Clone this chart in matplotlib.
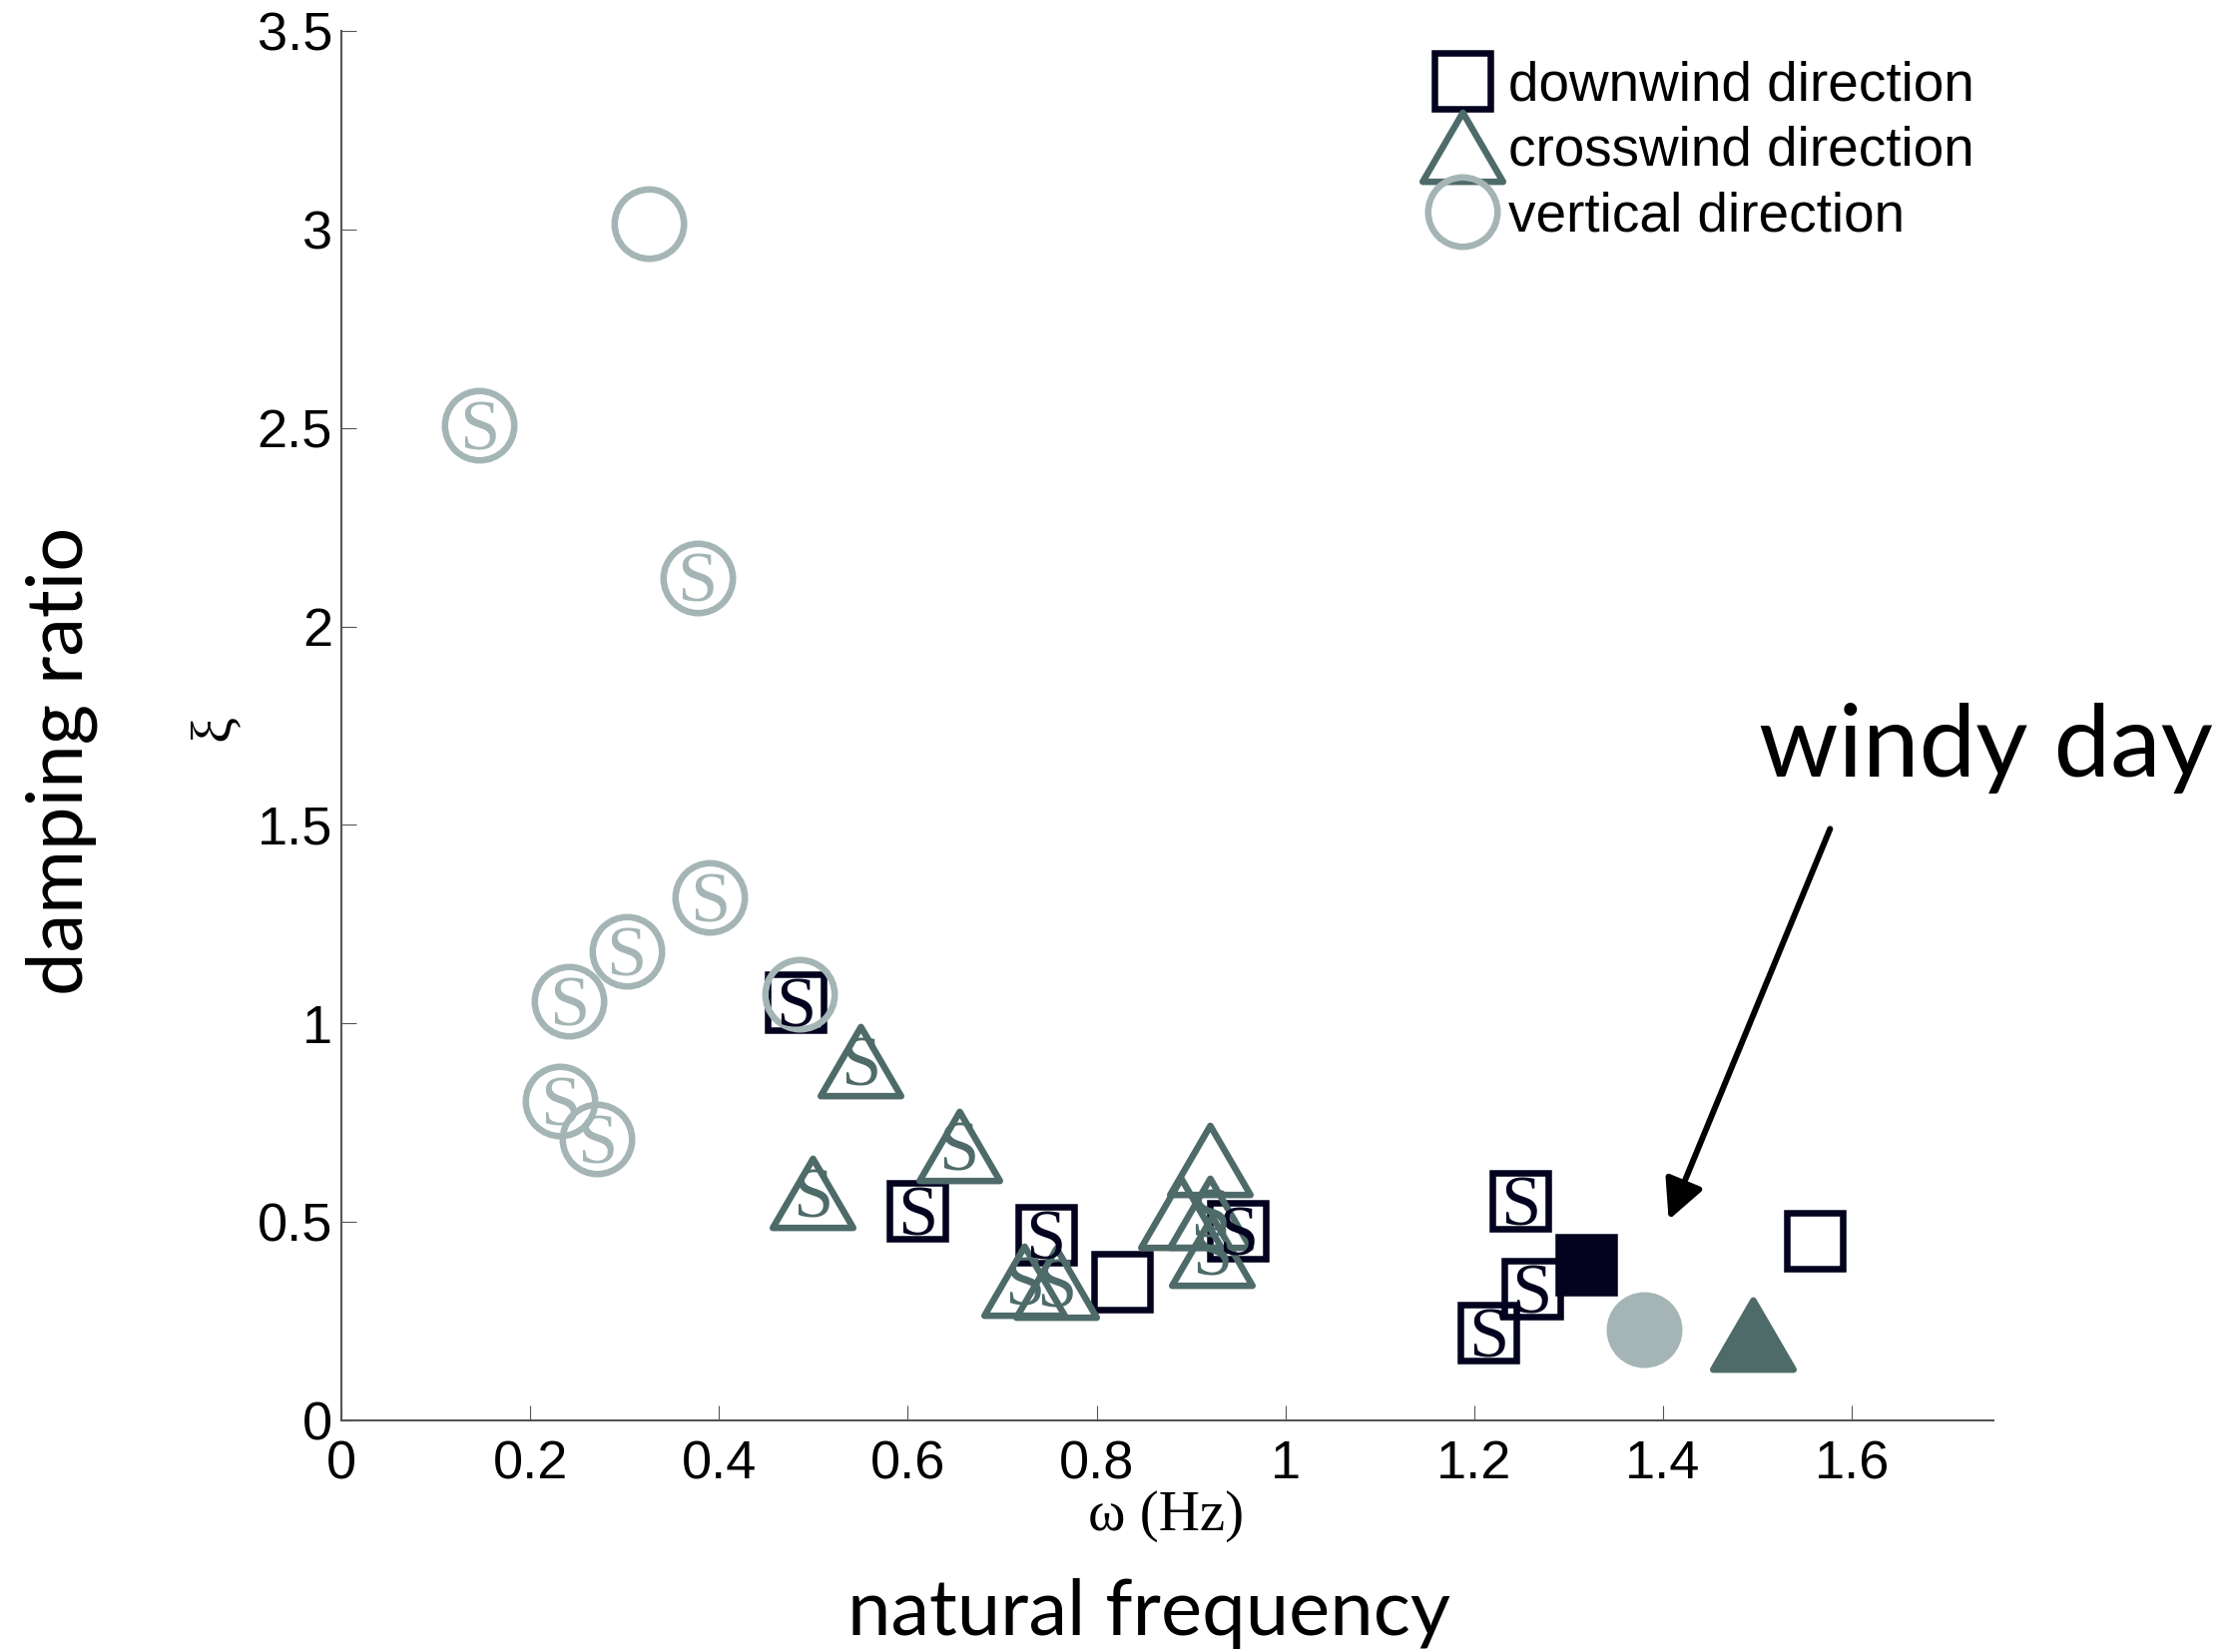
import matplotlib
matplotlib.use("Agg")
import matplotlib.pyplot as plt
from matplotlib.lines import Line2D
from matplotlib.markers import MarkerStyle
from matplotlib.path import Path

# natural frequency (Hz) / damping ratio per direction; flag = fitted with S
vert_x = [0.326, 0.146, 0.377, 0.390, 0.302, 0.241, 0.232, 0.271, 0.485]
vert_y = [3.015, 2.507, 2.123, 1.317, 1.181, 1.055, 0.804, 0.709, 1.073]
vert_s = [False, True, True, True, True, True, True, True, False]

down_x = [0.481, 0.610, 0.746, 0.827, 0.950, 1.249, 1.261, 1.215, 1.561]
down_y = [1.053, 0.528, 0.467, 0.349, 0.477, 0.553, 0.332, 0.221, 0.452]
down_s = [True, True, True, False, True, True, True, True, False]

cross_x = [0.550, 0.499, 0.654, 0.723, 0.757, 0.920, 0.889, 0.920, 0.922]
cross_y = [0.905, 0.573, 0.691, 0.352, 0.347, 0.656, 0.523, 0.523, 0.427]
cross_s = [True, True, True, True, True, False, False, True, True]

# windy day (filled markers)
windy_down = (1.319, 0.392)
windy_vert = (1.380, 0.229)
windy_cross = (1.495, 0.216)

x_ticks = [0, 0.2, 0.4, 0.6, 0.8, 1, 1.2, 1.4, 1.6]
x_ticklabels = ["0", "0.2", "0.4", "0.6", "0.8", "1", "1.2", "1.4", "1.6"]
y_ticks = [0, 0.5, 1, 1.5, 2, 2.5, 3, 3.5]
y_ticklabels = ["0", "0.5", "1", "1.5", "2", "2.5", "3", "3.5"]

C_DOWN = "#03031f"
C_CROSS = "#4e6b69"
C_VERT = "#a5b5b5"

plt.rcParams["font.family"] = ["Liberation Sans", "DejaVu Sans"]
BIG_FONT = "Lato"

tri = MarkerStyle(Path([(0, 0.86), (-1, -0.86), (1, -0.86), (0, 0.86)], closed=True),
                  joinstyle="miter")

fig = plt.figure(figsize=(22.37, 16.55), dpi=100)
ax = fig.add_axes([0.1529, 0.1402, 0.7398, 0.8411])

MS_SQ, MS_CI, MS_TR, MEW = 40, 50, 58, 4.7

ax.plot(down_x, down_y, linestyle="none", marker="s", ms=MS_SQ, mew=MEW,
        mec=C_DOWN, mfc="none", zorder=3)
ax.plot(cross_x, cross_y, linestyle="none", marker=tri, ms=MS_TR, mew=MEW,
        mec=C_CROSS, mfc="none", zorder=4)
ax.plot(vert_x, vert_y, linestyle="none", marker="o", ms=MS_CI, mew=MEW,
        mec=C_VERT, mfc="none", zorder=5)

ax.plot(*windy_down, marker="s", ms=MS_SQ, mew=MEW, color=C_DOWN, zorder=3)
ax.plot(*windy_vert, marker="o", ms=MS_CI, mew=MEW, color=C_VERT, zorder=5)
ax.plot(*windy_cross, marker=tri, ms=MS_TR, mew=MEW, color=C_CROSS, zorder=4)


def put_s(xs, ys, flags, color):
    for x, y, f in zip(xs, ys, flags):
        if f:
            ax.annotate("S", xy=(x, y), xytext=(0, -17.5), textcoords="offset points",
                        ha="center", va="baseline", fontsize=52,
                        family="Liberation Serif", color=color, zorder=6)


put_s(down_x, down_y, down_s, C_DOWN)
put_s(cross_x, cross_y, cross_s, C_CROSS)
put_s(vert_x, vert_y, vert_s, C_VERT)

ax.set_xlim(0, 1.75)
ax.set_ylim(0, 3.5)
ax.set_xticks(x_ticks)
ax.set_xticklabels(x_ticklabels)
ax.set_yticks(y_ticks)
ax.set_yticklabels(y_ticklabels)
for s in ["top", "right"]:
    ax.spines[s].set_visible(False)
for s in ["left", "bottom"]:
    ax.spines[s].set_color("#555555")
    ax.spines[s].set_linewidth(1.5)
ax.tick_params(axis="both", direction="in", length=11, width=0.8, color="#555555",
               labelsize=39, labelcolor="black")
ax.tick_params(axis="x", pad=14)
ax.tick_params(axis="y", pad=6.5)

handles = [
    Line2D([], [], linestyle="none", marker="s", ms=MS_SQ, mew=MEW, mec=C_DOWN, mfc="none"),
    Line2D([], [], linestyle="none", marker=tri, ms=MS_TR, mew=MEW, mec=C_CROSS, mfc="none"),
    Line2D([], [], linestyle="none", marker="o", ms=MS_CI, mew=MEW, mec=C_VERT, mfc="none"),
]
ax.legend(handles, ["downwind direction", "crosswind direction", "vertical direction"],
          loc="upper left", bbox_to_anchor=(0.6426, 0.9637), bbox_transform=fig.transFigure,
          frameon=False, fontsize=39.5, handlelength=1.0, handletextpad=0.34,
          labelspacing=0.25, borderpad=0, borderaxespad=0, numpoints=1)

# axis captions
fig.text(0.522, 0.0737, "ω (Hz)", ha="center", va="baseline", fontsize=41,
         family="Liberation Serif")
fig.text(0.0961, 0.5595, "ξ", ha="center", va="center", rotation=90, fontsize=42,
         family="Liberation Serif")
fig.text(0.0367, 0.5396, "damping ratio", ha="center", va="baseline", rotation=90,
         rotation_mode="anchor", fontsize=56, family=BIG_FONT)
fig.text(0.5145, 0.0103, "natural frequency", ha="center", va="baseline", fontsize=56,
         family=BIG_FONT)

# windy day callout
fig.text(0.7876, 0.5299, "windy day", ha="left", va="baseline", fontsize=73, family=BIG_FONT)
ax.annotate("", xy=(1.406, 0.505), xytext=(1.577, 1.49),
            arrowprops=dict(arrowstyle="-|>,head_length=0.4,head_width=0.2",
                            mutation_scale=60, lw=4.3, color="black",
                            shrinkA=0, shrinkB=0))

fig.savefig("out.png", dpi=100)
